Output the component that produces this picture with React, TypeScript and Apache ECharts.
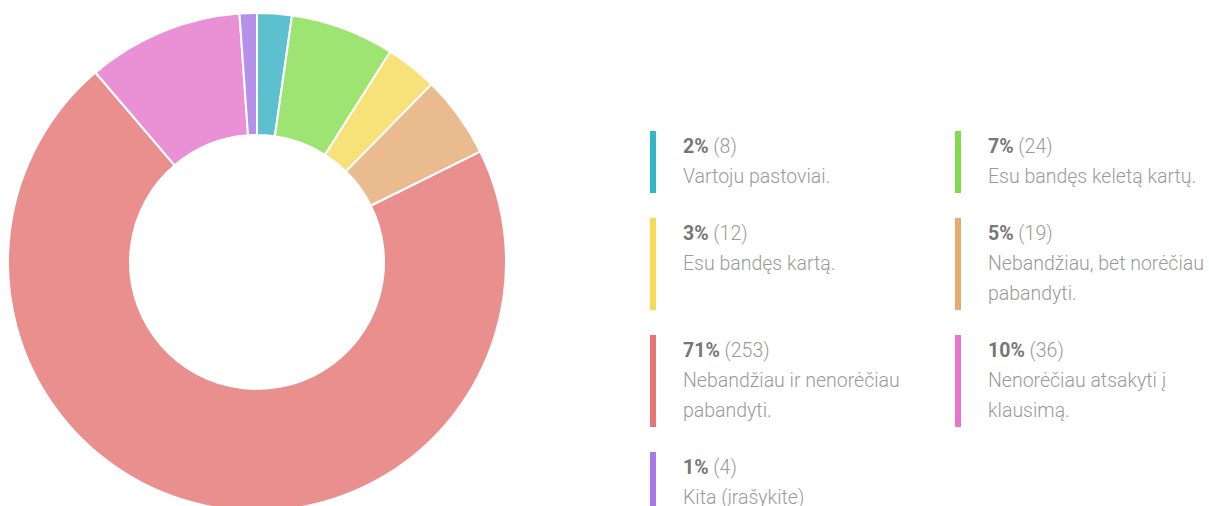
import React, { useEffect, useRef } from "react";
import * as echarts from "echarts";

const categories = [
  "Vartoju pastoviai.",
  "Esu bandęs keletą kartų.",
  "Esu bandęs kartą.",
  "Nebandžiau, bet norėčiau\npabandyti.",
  "Nebandžiau ir nenorėčiau\npabandyti.",
  "Nenorėčiau atsakyti į\nklausimą.",
  "Kita (įrašykite)",
];
const counts = [8, 24, 12, 19, 253, 36, 4];
const percents = ["2%", "7%", "3%", "5%", "71%", "10%", "1%"];
const sliceColors = ["#5cc0cf", "#9de473", "#f7e27a", "#eabb8f", "#e98f8e", "#ea90d5", "#b591ea"];
const markerColors = ["#34b5c8", "#80dc4f", "#f5dc58", "#e6aa6f", "#e87473", "#e775cb", "#a878e8"];

export default function App() {
  const ref = useRef<HTMLDivElement>(null);
  useEffect(() => {
    if (!ref.current) return;
    const chart = echarts.init(ref.current, undefined, { renderer: "svg" });

    const lineH = 30;
    const colX = [650, 955];
    const graphics: any[] = [];
    let top = 131;
    for (let r = 0; r * 2 < categories.length; r++) {
      const idxs = [r * 2, r * 2 + 1].filter((i) => i < categories.length);
      const maxLines = Math.max(...idxs.map((i) => categories[i].split("\n").length + 1));
      const h = maxLines * lineH + 2;
      idxs.forEach((i, c) => {
        graphics.push({
          type: "rect",
          left: colX[c],
          top: top,
          shape: { width: 6, height: h },
          style: { fill: markerColors[i] },
        });
        const lines = categories[i].split("\n").map((l) => `{t|${l}}`).join("\n");
        graphics.push({
          type: "text",
          left: colX[c] + 33,
          top: top + 5,
          style: {
            text: `{p|${percents[i]}}{c| (${counts[i]})}\n${lines}`,
            rich: {
              p: { fontFamily: "Roboto", fontSize: 19.5, fontWeight: "bold", fill: "#777777", lineHeight: lineH },
              c: { fontFamily: "Roboto", fontSize: 19.5, fontWeight: 300, fill: "#9a9a9a", lineHeight: lineH },
              t: { fontFamily: "Roboto", fontSize: 19.5, fontWeight: 300, fill: "#9a9a9a", lineHeight: lineH },
            },
          },
        });
      });
      top += h + 25;
    }

    chart.setOption({
      animation: false,
      color: sliceColors,
      graphic: graphics,
      series: [
        {
          type: "pie",
          center: [257, 262],
          radius: [127, 249],
          startAngle: 90,
          clockwise: true,
          label: { show: false },
          labelLine: { show: false },
          itemStyle: { borderColor: "#ffffff", borderWidth: 2 },
          emphasis: { disabled: true },
          data: counts.map((v, i) => ({ value: v, name: categories[i] })),
        },
      ],
    });
    return () => chart.dispose();
  }, []);
  return (
    <div
      ref={ref}
      style={{ position: "absolute", left: 0, top: 0, width: 1209, height: 506, background: "#fff" }}
    />
  );
}
